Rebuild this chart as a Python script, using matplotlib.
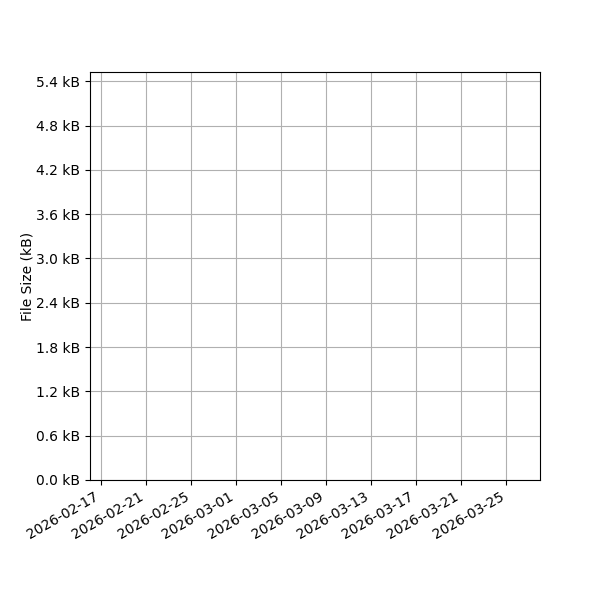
import matplotlib
matplotlib.use("Agg")
import matplotlib.pyplot as plt
import matplotlib.dates as mdates
import matplotlib.ticker as mticker
import datetime as dt

# Data (chart is empty)
dates = []
sizes_kb = []
x_start = dt.datetime(2026, 2, 16)
x_end = dt.datetime(2026, 3, 28)
y_max_kb = 5.525
y_tick_step = 0.6

fig, ax = plt.subplots(figsize=(6, 6), dpi=100)
fig.subplots_adjust(left=0.15, right=0.9, top=0.88, bottom=0.2)
ax.plot(dates, sizes_kb)
ax.set_xlim(x_start, x_end)
ax.set_ylim(0, y_max_kb)
ax.yaxis.set_major_locator(mticker.MultipleLocator(y_tick_step))
ax.yaxis.set_major_formatter(mticker.FuncFormatter(lambda v, p: f"{v:.1f} kB"))
ax.xaxis.set_major_locator(mdates.RRuleLocator(mdates.rrulewrapper(mdates.DAILY, interval=4, dtstart=dt.datetime(2026, 2, 17))))
ax.xaxis.set_major_formatter(mdates.DateFormatter("%Y-%m-%d"))
ax.set_ylabel("File Size (kB)", labelpad=1)
ax.grid(True)
for lbl in ax.get_xticklabels():
    lbl.set_rotation(30)
    lbl.set_ha("right")
fig.savefig("out.png")
